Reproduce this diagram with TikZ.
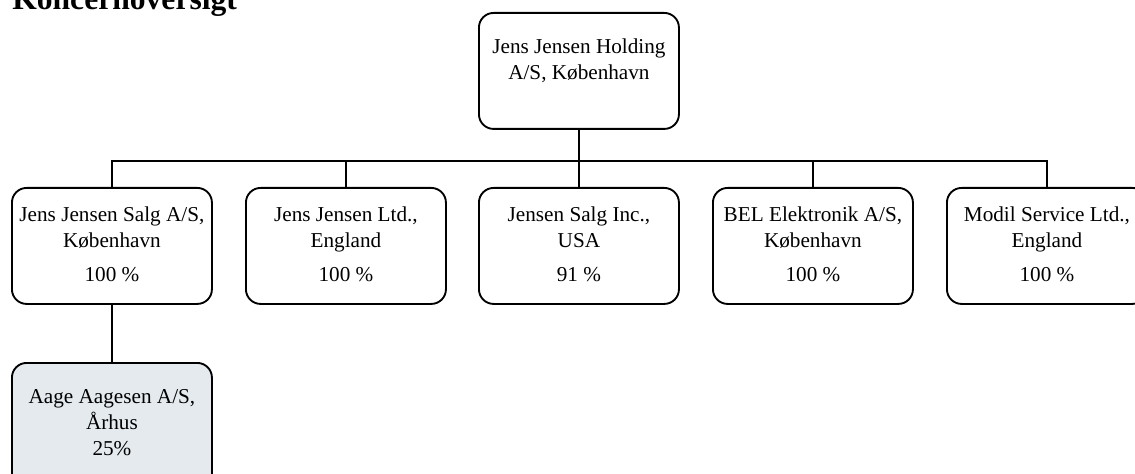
\documentclass[tikz,border=0pt]{standalone}
\usepackage{fontspec}
\setmainfont{Liberation Serif}
\definecolor{childfill}{HTML}{E4EAEE}
\begin{document}
\begin{tikzpicture}[x=0.75pt,y=-0.75pt,
  box/.style={draw=black,line width=1.4pt,rounded corners=11pt,minimum width=150pt,minimum height=87pt,inner sep=0pt,anchor=north west},
  txt/.style={align=center,font=\fontsize{15.9}{19.5}\selectfont,inner sep=0pt,anchor=north},
  conn/.style={line width=1.8pt}]
\useasboundingbox (0,0) rectangle (1135,474);
\node[anchor=base west,inner sep=0pt,font=\fontsize{23.7}{28}\selectfont\bfseries] (title) at (12,10) {Koncernoversigt};
% boxes
\node[box] (top) at (478,12) {};
\node[box] (b1) at (11,187) {};
\node[box] (b2) at (245,187) {};
\node[box] (b3) at (478,187) {};
\node[box] (b4) at (712,187) {};
\node[box] (b5) at (946,187) {};
\node[box,fill=childfill,minimum height=109.5pt] (c1) at (11,362) {};
% texts
\node[txt] (ttop) at ([yshift=-20pt]top.north) {Jens Jensen Holding\\A/S, København};
\node[txt] (t1) at ([yshift=-14.5pt]b1.north) {Jens Jensen Salg A/S,\\København\\[6pt]100 \%};
\node[txt] (t2) at ([yshift=-14.5pt]b2.north) {Jens Jensen Ltd.,\\England\\[6pt]100 \%};
\node[txt] (t3) at ([yshift=-14.5pt]b3.north) {Jensen Salg Inc.,\\USA\\[6pt]91 \%};
\node[txt] (t4) at ([yshift=-14.5pt]b4.north) {BEL Elektronik A/S,\\København\\[6pt]100 \%};
\node[txt] (t5) at ([yshift=-14.5pt]b5.north) {Modil Service Ltd.,\\England\\[6pt]100 \%};
\node[txt] (tc1) at ([yshift=-20.5pt]c1.north) {Aage Aagesen A/S,\\Århus\\[0pt]25\%};
% connectors
\coordinate (bar) at (0,161);
\draw[conn] (top.south) -- (top.south |- bar);
\draw[conn] (b1.north) -- (b1.north |- bar) -- (b5.north |- bar) -- (b5.north);
\foreach \b in {b2,b3,b4} \draw[conn] (\b.north) -- (\b.north |- bar);
\draw[conn] (b1.south) -- (c1.north);
\end{tikzpicture}
\end{document}
